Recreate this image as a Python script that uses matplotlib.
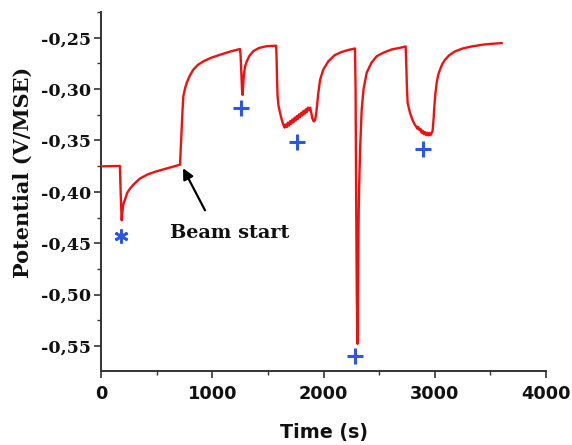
import matplotlib
matplotlib.use("Agg")
import matplotlib.pyplot as plt
from matplotlib.ticker import MultipleLocator, FuncFormatter

# Potential transient (time in s, potential in V/MSE)
time_s = [
    0, 150, 170, 175, 181, 186, 191, 198, 206, 216, 235, 261, 300, 351, 420, 500, 600, 680, 710,
    715, 720, 725, 732, 740, 755, 770, 800, 830, 870, 920, 990, 1070, 1160, 1249,
    1255, 1261, 1267, 1273, 1278, 1285, 1295, 1310, 1335, 1370, 1420, 1490, 1574,
    1578, 1582, 1587, 1595, 1609, 1625,
    1640, 1650, 1660, 1670, 1680, 1690, 1700, 1710, 1720, 1730, 1740, 1750, 1760, 1770,
    1780, 1790, 1800, 1810, 1820, 1830, 1840, 1850, 1860, 1870, 1880, 1890,
    1900, 1912, 1924, 1934, 1944, 1953, 1969, 1998, 2043, 2100, 2160, 2220, 2283,
    2288, 2293, 2299, 2305, 2311, 2316, 2320, 2330, 2343, 2360, 2388, 2430, 2478, 2540, 2610, 2688, 2738,
    2745, 2750, 2756, 2766, 2777, 2790, 2800, 2810, 2822, 2832, 2842, 2852, 2862, 2872, 2882,
    2892, 2902, 2912, 2922, 2932, 2942, 2952, 2962, 2972, 2980,
    2990, 2996, 3005, 3017, 3030, 3047, 3068, 3092, 3130, 3182, 3250, 3332, 3450, 3601]
potential = [
    -0.3752, -0.3748, -0.3748, -0.395, -0.415, -0.4277, -0.421, -0.414, -0.410, -0.4075, -0.401, -0.3968,
    -0.392, -0.387, -0.383, -0.380, -0.377, -0.3745, -0.3735,
    -0.362, -0.350, -0.340, -0.322, -0.307, -0.2995, -0.294, -0.2865, -0.281, -0.2765, -0.273, -0.2695,
    -0.2666, -0.2635, -0.261,
    -0.268, -0.285, -0.300, -0.3057, -0.296, -0.2845, -0.278, -0.273, -0.2675, -0.263, -0.2600, -0.2582, -0.2578,
    -0.270, -0.290, -0.307, -0.316, -0.323, -0.330,
    -0.3350, -0.3375, -0.3345, -0.3370, -0.3327, -0.3355, -0.3312, -0.3338, -0.3296, -0.3322, -0.3278,
    -0.3305, -0.3262, -0.3290, -0.3245, -0.3273, -0.3230, -0.3256, -0.3213, -0.3240, -0.3197, -0.3224,
    -0.3180, -0.3205, -0.3180, -0.3230,
    -0.3285, -0.3315, -0.3300, -0.3240, -0.3130, -0.304, -0.291, -0.281, -0.273, -0.267, -0.2640, -0.2620, -0.2605,
    -0.300, -0.400, -0.500, -0.548, -0.480, -0.420, -0.395, -0.355, -0.320, -0.300, -0.284, -0.2745, -0.268,
    -0.2645, -0.2615, -0.2598, -0.2585,
    -0.280, -0.300, -0.3136, -0.318, -0.323, -0.327, -0.330, -0.3325, -0.335, -0.3362, -0.3385, -0.3370,
    -0.3400, -0.3388, -0.3425,
    -0.3405, -0.3440, -0.3418, -0.3448, -0.3425, -0.3450, -0.3428, -0.3448, -0.3425, -0.3410,
    -0.328, -0.317, -0.305, -0.294, -0.2865, -0.281, -0.2755, -0.2715, -0.267, -0.2633, -0.2605, -0.2585,
    -0.2565, -0.2552]

# Event markers
star_t, star_v = [180], [-0.443]
plus_t = [1258, 1762, 2283, 2894]
plus_v = [-0.318, -0.3516, -0.5596, -0.358]

# Annotation
annot_text = "Beam start"
arrow_head = (737, -0.377)
arrow_tail = (935, -0.418)
annot_text_xy = (1160, -0.4448)

x_ticks = [0, 1000, 2000, 3000, 4000]
y_ticks = [-0.55, -0.50, -0.45, -0.40, -0.35, -0.30, -0.25]

blue = "#2f55e6"
red = "#f01010"
axis_col = "#333333"

fig = plt.figure(figsize=(5.72, 4.45), dpi=100)
ax = fig.add_axes([0.1766, 0.166, 0.778, 0.807])

ax.plot(time_s, potential, color=red, lw=1.7, zorder=3, solid_joinstyle="round")
ax.plot(plus_t, plus_v, linestyle="none", marker="+", color=blue,
        markersize=11, markeredgewidth=2.2, zorder=4)
ax.plot(star_t, star_v, linestyle="none", marker=(6, 2, 0), color=blue,
        markersize=10, markeredgewidth=2.0, zorder=4)

ax.annotate("", xy=arrow_head, xytext=arrow_tail,
            arrowprops=dict(arrowstyle="-|>", color="black", lw=1.6,
                            mutation_scale=16, shrinkA=0, shrinkB=0))
ax.text(annot_text_xy[0], annot_text_xy[1], annot_text, ha="center", va="baseline",
        fontsize=13.9, fontweight="bold", family="DejaVu Serif", color="#111111")

ax.set_xlim(0, 4000)
ax.set_ylim(-0.5745, -0.225)
ax.set_xticks(x_ticks)
ax.set_yticks(y_ticks)
ax.xaxis.set_minor_locator(MultipleLocator(500))
ax.yaxis.set_minor_locator(MultipleLocator(0.025))
ax.yaxis.set_major_formatter(FuncFormatter(lambda v, p: f"{v:.2f}".replace(".", ",")))

for s in ["top", "right"]:
    ax.spines[s].set_visible(False)
for s in ["left", "bottom"]:
    ax.spines[s].set_linewidth(1.4)
    ax.spines[s].set_color(axis_col)

ax.tick_params(axis="y", which="major", direction="out", length=5, width=1.2, color=axis_col, pad=2)
ax.tick_params(axis="x", which="major", direction="out", length=5, width=1.2, color=axis_col, pad=5)
ax.tick_params(axis="both", which="minor", direction="out", length=3, width=1.0, color=axis_col)

for lab in ax.get_yticklabels():
    lab.set_fontfamily("DejaVu Serif")
    lab.set_fontweight("bold")
    lab.set_fontsize(12.6)
    lab.set_color("#111111")
for lab in ax.get_xticklabels():
    lab.set_fontfamily("DejaVu Sans")
    lab.set_fontweight("bold")
    lab.set_fontsize(12.8)
    lab.set_color("#111111")

ax.set_ylabel("Potential (V/MSE)", fontsize=15, fontweight="bold", family="DejaVu Serif", color="#111111")
ax.yaxis.set_label_coords(-0.153, 0.554)
ax.set_xlabel("Time (s)", fontsize=13.8, fontweight="bold", family="DejaVu Sans", color="#111111")
ax.xaxis.set_label_coords(0.50, -0.145)

fig.savefig("out.png", dpi=100)
